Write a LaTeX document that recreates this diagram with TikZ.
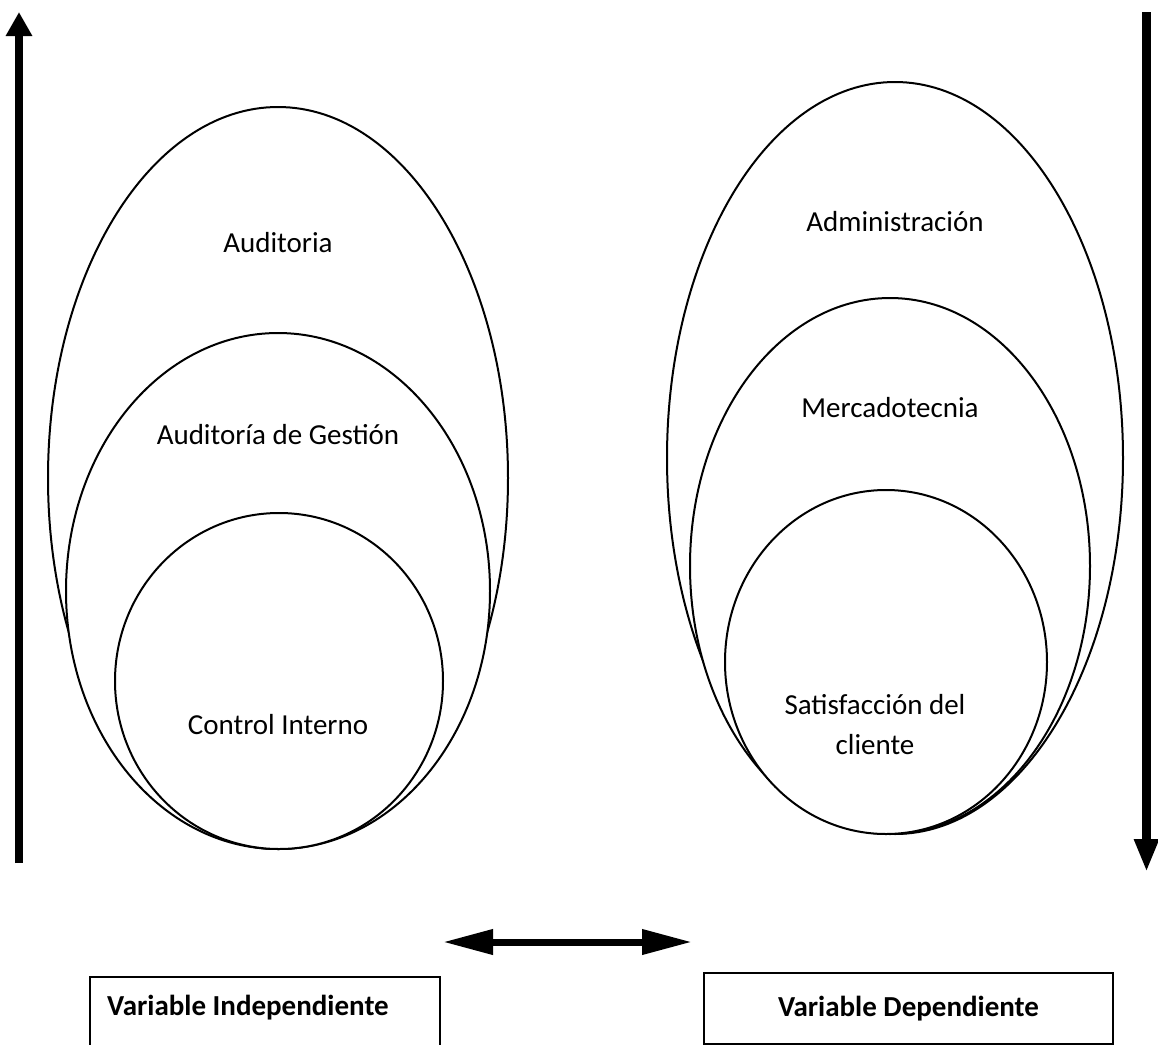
\documentclass[tikz,border=0pt]{standalone}
\usepackage{fontspec}
\setmainfont{Carlito}
\usetikzlibrary{shapes.geometric,arrows.meta}
\begin{document}
\begin{tikzpicture}[x=0.5pt,y=-0.5pt,
  oval/.style={draw, ellipse, fill=white, line width=1pt, inner sep=0pt},
  lbl/.style={font=\fontsize{14.5}{20}\selectfont, align=center},
  varbox/.style={draw, line width=1pt, font=\bfseries\fontsize{14.5}{20}\selectfont},
  bigarrow/.style={line width=4pt}]
\useasboundingbox (0,0) rectangle (1158,1045);

% left family of sets
\node[oval, minimum width=230pt, minimum height=371pt] (aud) at (278,478) {};
\node[oval, minimum width=212pt, minimum height=258pt] (gest) at (278,591) {};
\node[oval, minimum width=164pt, minimum height=168pt] (ctrl) at (279,681) {};
\node[lbl] (taud) at (278,243) {Auditoria};
\node[lbl] (tgest) at (278,435) {Auditoría de Gestión};
\node[lbl] (tctrl) at (278,725) {Control Interno};

% right family of sets
\node[oval, minimum width=228pt, minimum height=376pt] (adm) at (895,458) {};
\node[oval, minimum width=200pt, minimum height=268pt] (merc) at (890,566) {};
\node[oval, minimum width=161pt, minimum height=172pt] (sat) at (886,662) {};
\node[lbl] (tadm) at (895,222) {Administración};
\node[lbl] (tmerc) at (890,408) {Mercadotecnia};
\node[lbl] (tsat) at (875,725) {Satisfacción del\\cliente};

% vertical arrows
\coordinate (lbot) at (19,863);
\coordinate (ltop) at (19,12);
\draw[bigarrow, -{Triangle[length=12pt,width=12.5pt]}] (lbot) -- (ltop);
\coordinate (rtop) at (1146.5,12);
\coordinate (rbot) at (1146.5,872);
\draw[line width=4.5pt, -{Triangle[length=16.5pt,width=11.5pt]}] (rtop) -- (rbot);

% variable boxes
\draw[line width=1pt] (90,1050) -- (90,977) -- (440,977) -- (440,1050);
\node[font=\bfseries\fontsize{14.5}{20}\selectfont] (indep) at (248,1008) {Variable Independiente};
\node[varbox, minimum width=204.5pt, minimum height=35.5pt] (dep) at (908.5,1008.5) {Variable Dependiente};

% relation between both variables
\coordinate (ra) at (443,942);
\coordinate (rb) at (692,942);
\draw[line width=3.5pt, {Triangle[length=25pt,width=12pt]}-{Triangle[length=25pt,width=12pt]}] (ra) -- (rb);
\end{tikzpicture}
\end{document}
